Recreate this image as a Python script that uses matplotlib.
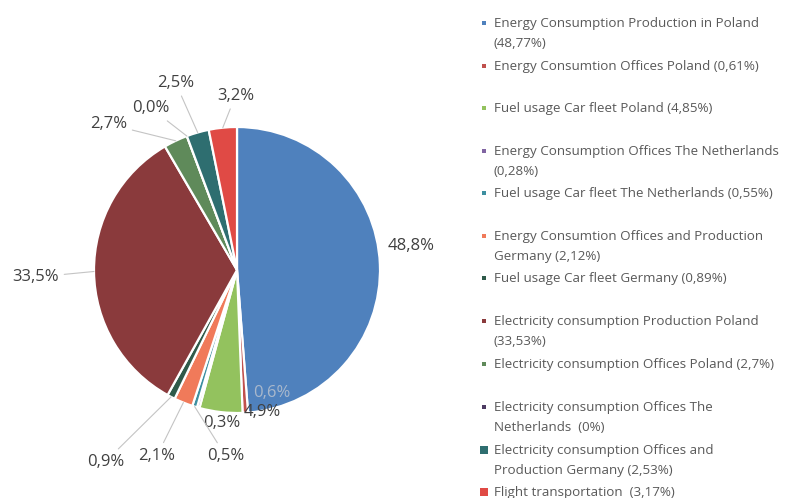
import matplotlib
matplotlib.use("Agg")
import matplotlib.pyplot as plt
import numpy as np

plt.rcParams['font.family'] = ['Open Sans', 'DejaVu Sans']

# data
shares = [48.77, 0.61, 4.85, 0.28, 0.55, 2.12, 0.89, 33.53, 2.7, 0.0, 2.53, 3.17]
pie_labels = ['48,8%', '0,6%', '4,9%', '0,3%', '0,5%', '2,1%', '0,9%',
              '33,5%', '2,7%', '0,0%', '2,5%', '3,2%']
legend_labels = [
    'Energy Consumption Production in Poland\n(48,77%)',
    'Energy Consumtion Offices Poland (0,61%)',
    'Fuel usage Car fleet Poland (4,85%)',
    'Energy Consumption Offices The Netherlands\n(0,28%)',
    'Fuel usage Car fleet The Netherlands (0,55%)',
    'Energy Consumtion Offices and Production\nGermany (2,12%)',
    'Fuel usage Car fleet Germany (0,89%)',
    'Electricity consumption Production Poland\n(33,53%)',
    'Electricity consumption Offices Poland (2,7%)',
    'Electricity consumption Offices The\nNetherlands  (0%)',
    'Electricity consumption Offices and\nProduction Germany (2,53%)',
    'Flight transportation  (3,17%)',
]
colors = ['#4f81bd', '#c0504d', '#93c25e', '#8064a2', '#3d8fa0', '#f07a5a',
          '#2f5a4a', '#8a3a3c', '#5f8a5a', '#4d3b62', '#2e6e70', '#e04a45']

# label placement (data units of the pie axes, radius = 1)
label_pos = [(1.22, 0.17), (0.245, -0.86), (0.18, -0.99), (-0.11, -1.07),
             (-0.08, -1.30), (-0.56, -1.30), (-0.92, -1.34), (-1.41, -0.05),
             (-0.90, 1.02), (-0.60, 1.13), (-0.43, 1.31), (-0.01, 1.22)]
has_leader = [False, False, False, False, True, True, True, True, True, True, True, True]
legend_y = [23, 66, 108, 151, 193, 236, 278, 321, 364, 407, 450, 492]

W, H = 797, 498
cx, cy, R = 237, 270, 143
fig = plt.figure(figsize=(W / 100, H / 100), dpi=100)

# pie axes, sized so one data unit = R pixels
aw = 440
ax = fig.add_axes([0, 0, aw / W, 1])

wedges, _ = ax.pie(shares, colors=colors, startangle=90, counterclock=False,
                   radius=1, wedgeprops=dict(edgecolor='white', linewidth=1.6))
# pie() resets the limits, so set them afterwards
ax.set_xlim(-cx / R, (aw - cx) / R)
ax.set_ylim(-(H - cy) / R, cy / R)
ax.set_aspect('auto')
ax.axis('off')

for w, lab, pos, lead in zip(wedges, pie_labels, label_pos, has_leader):
    mid = np.deg2rad((w.theta1 + w.theta2) / 2)
    edge = (np.cos(mid), np.sin(mid))
    col = '#404040'
    if lab == '0,6%':
        col = '#a9b8cc'
    if lead:
        ax.annotate(lab, xy=edge, xytext=pos, ha='center', va='center',
                    fontsize=12, color=col, annotation_clip=False,
                    arrowprops=dict(arrowstyle='-', color='#c4c4c4', lw=0.8,
                                    shrinkA=2, shrinkB=0))
    else:
        ax.text(pos[0], pos[1], lab, ha='center', va='center',
                fontsize=12, color=col)

# legend drawn in pixel coordinates
lax = fig.add_axes([0, 0, 1, 1])
lax.set_xlim(0, W)
lax.set_ylim(H, 0)
lax.axis('off')
for i, (lab, y0, c) in enumerate(zip(legend_labels, legend_y, colors)):
    big = i >= 10
    lax.scatter(484, y0, marker='s', s=40 if big else 12, color=c, linewidths=0)
    for j, line in enumerate(lab.split('\n')):
        lax.text(494, y0 + j * 20, line, ha='left', va='center',
                 fontsize=9.6, color='#595959')

fig.savefig('out.png', dpi=100)
